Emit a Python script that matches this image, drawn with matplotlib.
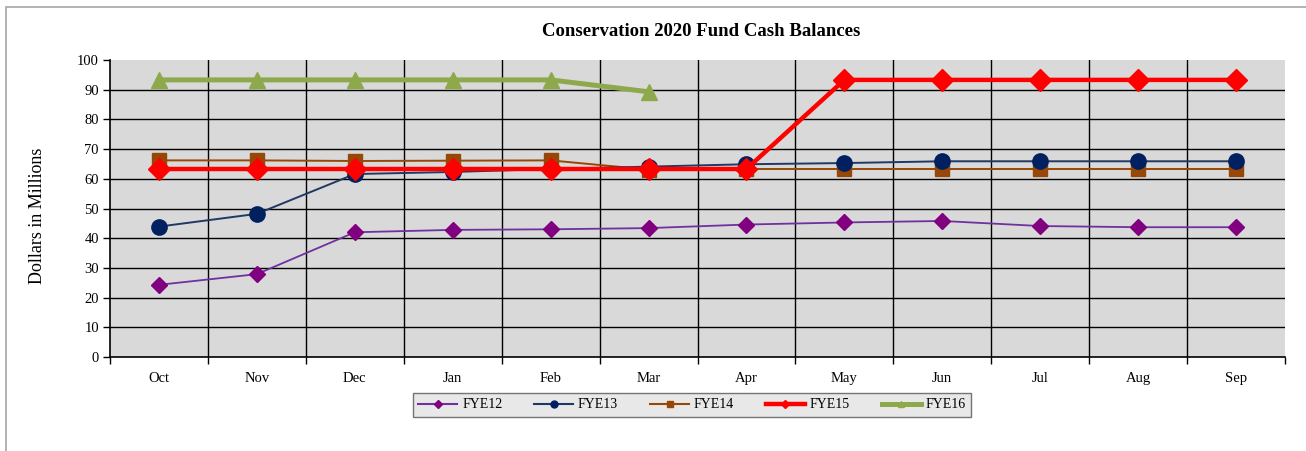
import numpy as np
import matplotlib
matplotlib.use('Agg')
import matplotlib.pyplot as plt
from matplotlib.lines import Line2D
from matplotlib.patches import Rectangle

months = ['Oct', 'Nov', 'Dec', 'Jan', 'Feb', 'Mar', 'Apr', 'May', 'Jun', 'Jul', 'Aug', 'Sep']
fye12 = [24.3, 27.9, 42.0, 42.8, 43.0, 43.4, 44.6, 45.3, 45.8, 44.1, 43.7, 43.7]
fye13 = [43.9, 48.2, 61.6, 62.3, 63.3, 64.1, 64.9, 65.3, 65.9, 65.9, 65.9, 65.9]
fye14 = [66.2, 66.2, 66.0, 66.1, 66.2, 63.1, 63.3, 63.3, 63.3, 63.3, 63.3, 63.3]
fye15 = [63.3, 63.3, 63.3, 63.3, 63.3, 63.3, 63.3, 93.3, 93.3, 93.3, 93.3, 93.3]
fye16 = [93.3, 93.3, 93.3, 93.3, 93.3, 89.3]

plt.rcParams['font.family'] = ['Liberation Serif', 'DejaVu Serif']

fig = plt.figure(figsize=(13.06, 4.51), dpi=100)
# outer chart border
fig.patches.append(Rectangle((6 / 1306, -0.1), 1.2, 1.1 - 7 / 451, transform=fig.transFigure,
                             fill=False, edgecolor='#a6a6a6', linewidth=1.2))

ax = fig.add_axes([110 / 1306, 1 - 357 / 451, 1175 / 1306, 297 / 451])
ax.set_facecolor('#d9d9d9')

x = np.arange(len(months))
ax.plot(x, fye12, color='#7030a0', lw=1.3, marker='D', ms=8, mfc='#800080', mec='#800080', zorder=3)
ax.plot(x, fye13, color='#1f3864', lw=1.4, marker='o', ms=11, mfc='#002060', mec='#002060', zorder=4)
ax.plot(x, fye14, color='#974806', lw=1.4, marker='s', ms=10, mfc='#974806', mec='#974806', zorder=3)
ax.plot(x, fye15, color='#ff0000', lw=3.2, marker='D', ms=11, mfc='#ff0000', mec='#ff0000', zorder=5)
ax.plot(x[:len(fye16)], fye16, color='#8ea94c', lw=3.6, marker='^', ms=12, mfc='#8ea94c', mec='#8ea94c', zorder=5)

ax.set_xlim(-0.5, len(months) - 0.5)
ax.set_ylim(0, 100)
ax.set_yticks(range(0, 101, 10))
ax.set_xticks(x)
ax.set_xticklabels(months)
ax.set_xticks(np.arange(-0.5, len(months), 1), minor=True)
ax.tick_params(axis='x', which='major', length=0, pad=11, labelsize=10.5)
ax.tick_params(axis='x', which='minor', length=5, width=1, direction='out')
ax.tick_params(axis='y', length=5, width=1, direction='out', labelsize=10.5, pad=3)

for yv in range(10, 100, 10):
    ax.axhline(yv, color='black', lw=1, zorder=1)
for xv in np.arange(0.5, len(months) - 1, 1):
    ax.axvline(xv, color='black', lw=1, zorder=1)

ax.spines['top'].set_visible(False)
ax.spines['right'].set_visible(False)
ax.spines['left'].set_linewidth(1.2)
ax.spines['bottom'].set_linewidth(1.2)

fig.text(701 / 1306, 1 - 32 / 451, 'Conservation 2020 Fund Cash Balances', ha='center', va='center',
         fontsize=13.5, fontweight='bold')
fig.text(38 / 1306, 1 - 216 / 451, 'Dollars in Millions', ha='center', va='center', rotation=90, fontsize=13)

handles = [
    Line2D([], [], color='#7030a0', lw=1.5, marker='D', ms=4, mfc='#800080', mec='#800080'),
    Line2D([], [], color='#1f3864', lw=1.5, marker='o', ms=5, mfc='#002060', mec='#002060'),
    Line2D([], [], color='#974806', lw=1.5, marker='s', ms=5, mfc='#974806', mec='#974806'),
    Line2D([], [], color='#ff0000', lw=3.2, marker='D', ms=4, mfc='#ff0000', mec='#ff0000'),
    Line2D([], [], color='#8ea94c', lw=3.6, marker='^', ms=4, mfc='#8ea94c', mec='#8ea94c'),
]
leg = fig.legend(handles, ['FYE12', 'FYE13', 'FYE14', 'FYE15', 'FYE16'], loc='center',
                 bbox_to_anchor=(692 / 1306, 1 - 405 / 451), ncol=5, fontsize=10, frameon=True,
                 fancybox=False, handlelength=2.8, columnspacing=2.3, handletextpad=0.35,
                 borderpad=0.4, borderaxespad=0)
leg.get_frame().set_facecolor('#e3e3e3')
leg.get_frame().set_edgecolor('#555555')
leg.get_frame().set_linewidth(1)

fig.savefig('out.png', dpi=100)
